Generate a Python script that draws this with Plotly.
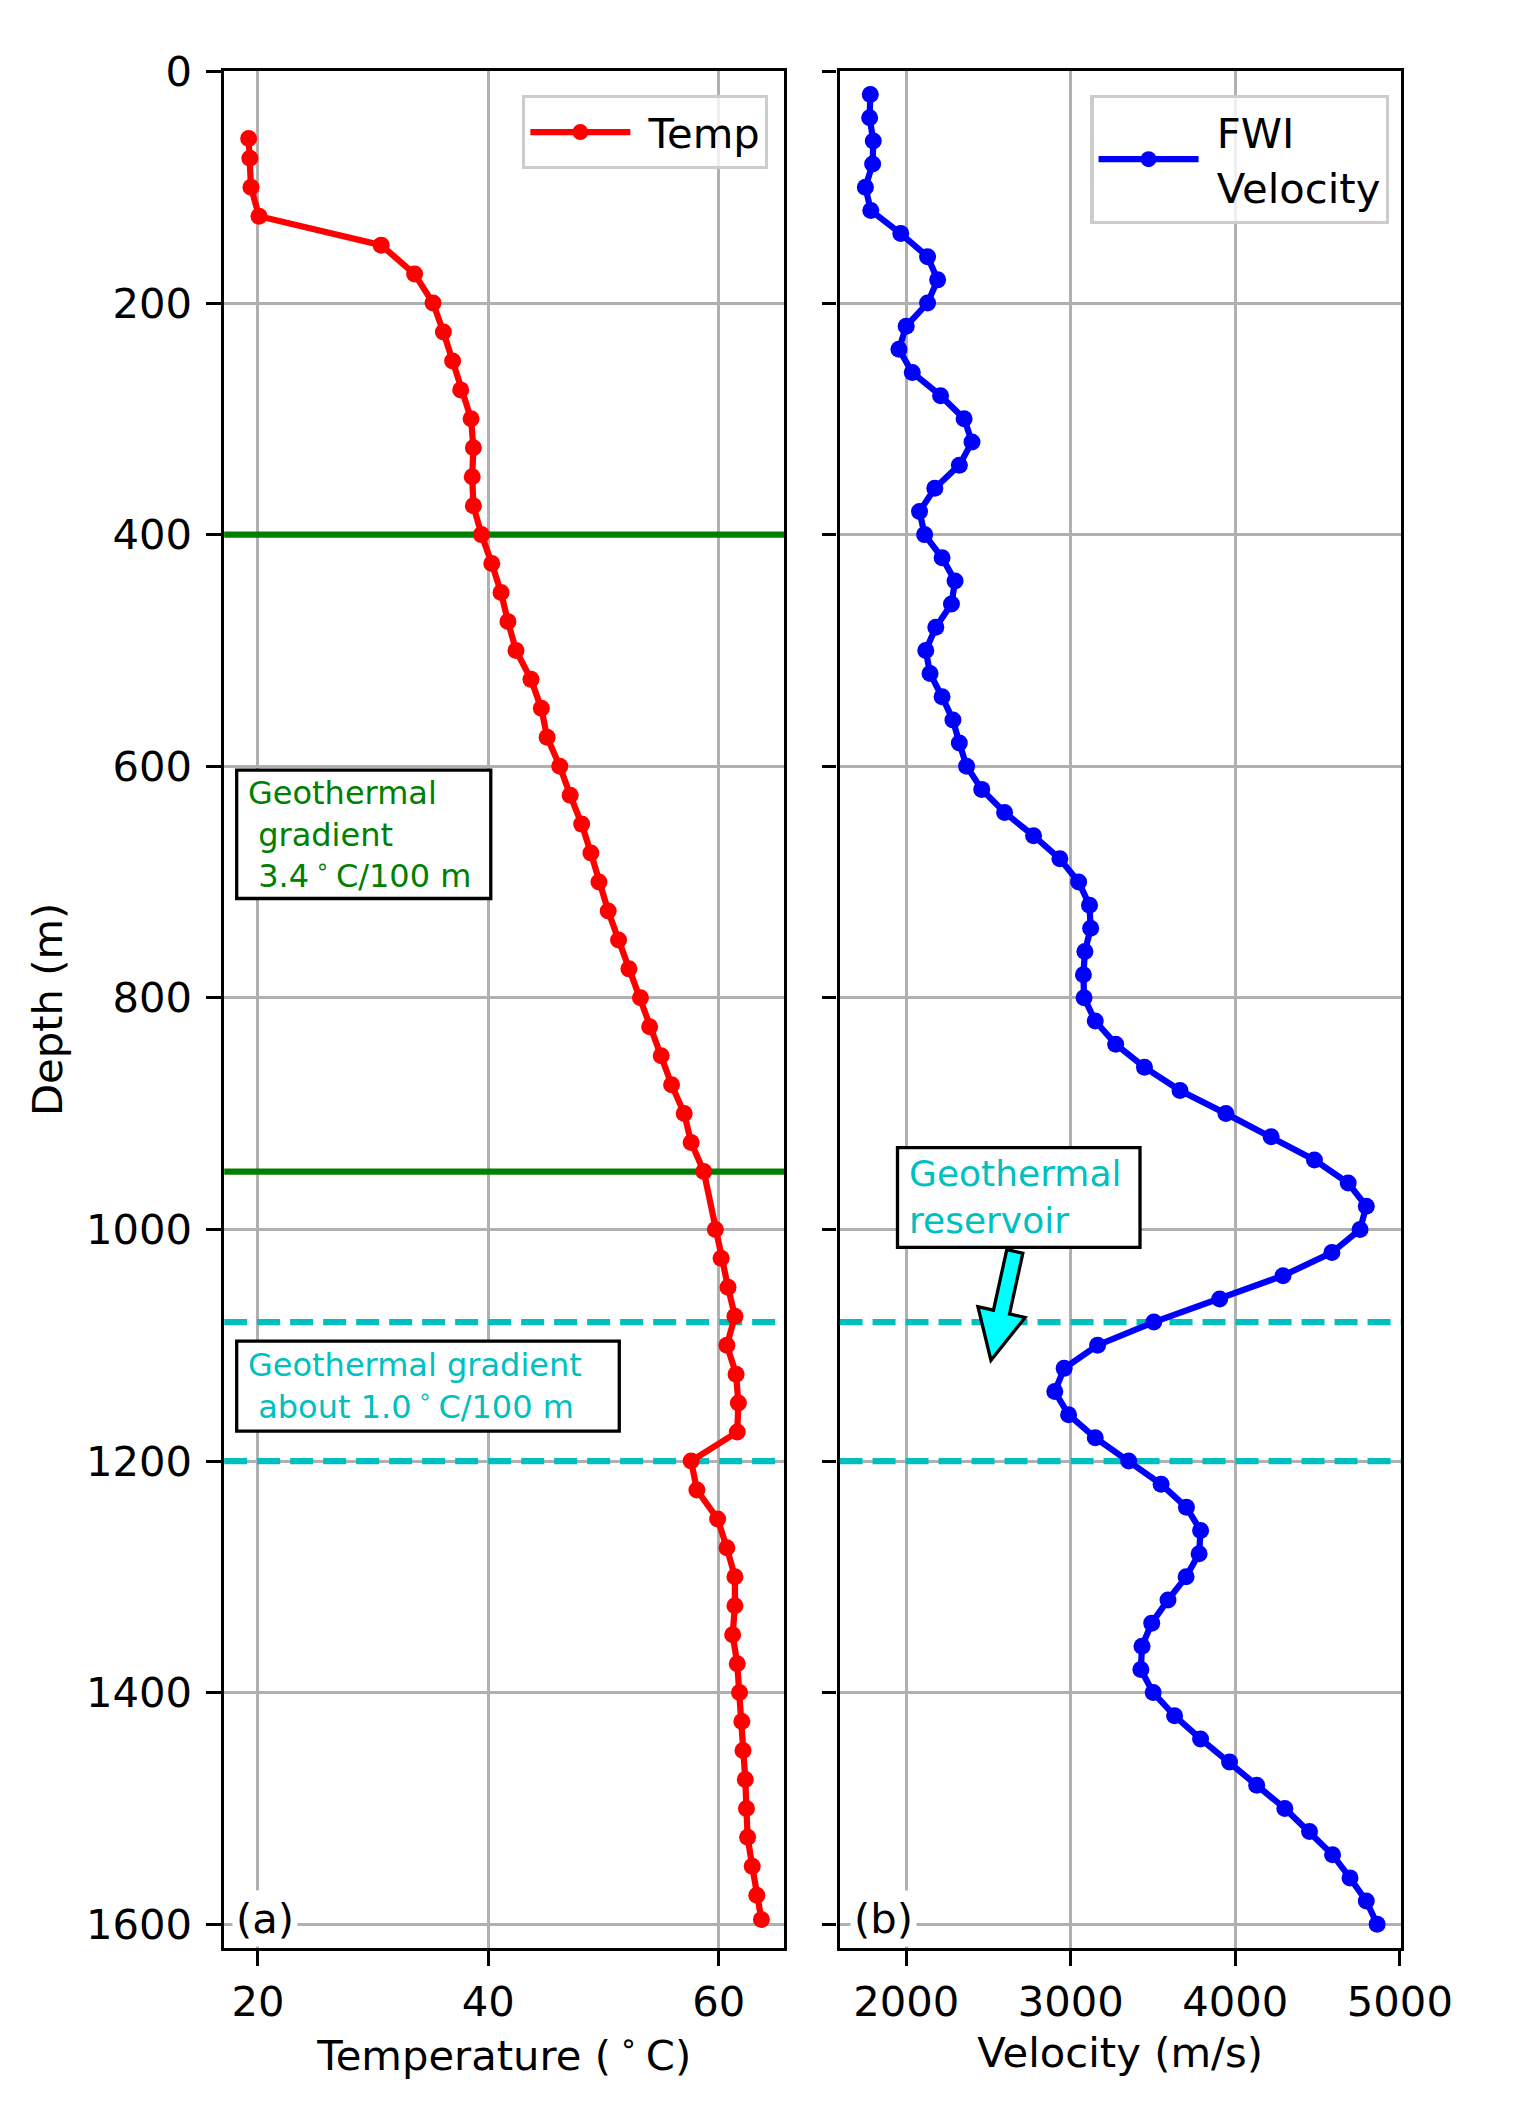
import plotly.graph_objects as go

# (a) temperature log: depth (m) and temperature (deg C)
temp_depth = [58, 75, 100, 125, 150, 175, 200, 225, 250, 275, 300, 325, 350, 375,
              400, 425, 450, 475, 500, 525, 550, 575, 600, 625, 650, 675, 700, 725,
              750, 775, 800, 825, 850, 875, 900, 925, 950, 1000, 1025, 1050, 1075,
              1100, 1125, 1150, 1175, 1200, 1225, 1250, 1275, 1300, 1325, 1350, 1375,
              1400, 1425, 1450, 1475, 1500, 1525, 1550, 1575, 1596]
temp_values = [19.2, 19.3, 19.4, 20.1, 30.7, 33.6, 35.2, 36.1, 36.9, 37.6, 38.5, 38.7,
               38.6, 38.7, 39.4, 40.3, 41.1, 41.7, 42.4, 43.7, 44.6, 45.1, 46.2, 47.1,
               48.1, 48.9, 49.6, 50.4, 51.3, 52.2, 53.2, 54.0, 55.0, 55.9, 57.0, 57.6,
               58.7, 59.7, 60.2, 60.8, 61.4, 60.7, 61.5, 61.7, 61.6, 57.6, 58.1, 59.9,
               60.7, 61.4, 61.4, 61.2, 61.6, 61.8, 62.0, 62.1, 62.3, 62.4, 62.5, 62.9,
               63.3, 63.7]

# (b) FWI velocity: depth (m) and velocity (m/s)
vel_depth = [20, 40, 60, 80, 100, 120, 140, 160, 180, 200, 220, 240, 260, 280, 300,
             320, 340, 360, 380, 400, 420, 440, 460, 480, 500, 520, 540, 560, 580, 600,
             620, 640, 660, 680, 700, 720, 740, 760, 780, 800, 820, 840, 860, 880, 900,
             920, 940, 960, 980, 1000, 1020, 1040, 1060, 1080, 1100, 1120, 1140, 1160,
             1180, 1200, 1220, 1240, 1260, 1280, 1300, 1320, 1340, 1360, 1380, 1400,
             1420, 1440, 1460, 1480, 1500, 1520, 1540, 1560, 1580, 1600]
vel_values = [1782, 1778, 1800, 1796, 1752, 1785, 1967, 2130, 2191, 2130, 2000, 1956,
              2037, 2209, 2352, 2400, 2323, 2174, 2081, 2112, 2218, 2297, 2275, 2180,
              2119, 2145, 2218, 2284, 2323, 2367, 2459, 2598, 2774, 2934, 3048, 3114,
              3121, 3086, 3077, 3081, 3149, 3273, 3448, 3664, 3943, 4218, 4481, 4686,
              4796, 4758, 4587, 4290, 3905, 3505, 3163, 2960, 2903, 2987, 3149, 3352,
              3549, 3703, 3789, 3780, 3701, 3591, 3492, 3433, 3426, 3501, 3631, 3789,
              3965, 4130, 4301, 4451, 4591, 4697, 4796, 4862]

gradient_depths = [400, 950]      # green solid lines, panel (a)
reservoir_depths = [1080, 1200]   # cyan dashed lines, both panels

y_ticks = [0, 200, 400, 600, 800, 1000, 1200, 1400, 1600]
temp_ticks = [20, 40, 60]
vel_ticks = [2000, 3000, 4000, 5000]

W, H = 1534, 2111
AXA = (232, 812)          # pixel left/right of panel (a)
AXB = (869, 1450)         # pixel left/right of panel (b)
TOP, BOT = 48, 1947       # pixel top/bottom of both panels
TEMP_RANGE = [17.07, 65.7]
VEL_RANGE = [1595, 5006]
DEPTH_RANGE = [1620.5, 0]

FS = 41.7                 # 10 pt at 300 dpi
FONT = "DejaVu Sans"
GREEN = "#008000"
CYAN = "#00bfbf"
GRID = "#b0b0b0"


def px(x):
    return x / W


def py(y):
    return 1 - y / H


fig = go.Figure()

# horizontal marker lines, drawn first so the logs sit on top
for d in gradient_depths:
    fig.add_trace(go.Scatter(x=TEMP_RANGE, y=[d, d], mode="lines", showlegend=False,
                             line=dict(color=GREEN, width=6.25), hoverinfo="skip",
                             xaxis="x", yaxis="y"))
for xa, ya, rng in [("x", "y", TEMP_RANGE), ("x2", "y2", VEL_RANGE)]:
    for d in reservoir_depths:
        fig.add_trace(go.Scatter(x=rng, y=[d, d], mode="lines", showlegend=False,
                                 line=dict(color=CYAN, width=6.25, dash="23px,10px"),
                                 hoverinfo="skip", xaxis=xa, yaxis=ya))

fig.add_trace(go.Scatter(x=temp_values, y=temp_depth, mode="lines+markers",
                         name="\u00a0Temp",
                         line=dict(color="#ff0000", width=6.25),
                         marker=dict(color="#ff0000", size=17),
                         xaxis="x", yaxis="y", legend="legend"))
fig.add_trace(go.Scatter(x=vel_values, y=vel_depth, mode="lines+markers",
                         name="\u00a0FWI<br>\u00a0Velocity",
                         line=dict(color="#0000ff", width=6.25),
                         marker=dict(color="#0000ff", size=17),
                         xaxis="x2", yaxis="y2", legend="legend2"))

# fat arrow pointing at the reservoir, built in pixel space then mapped to data
ARROW_TAIL = (2660, 1019)
ARROW_TIP = (2515, 1113)
SHAFT_W, HEAD_W, HEAD_L = 17, 50, 50


def v2px(v):
    return AXB[0] + (v - VEL_RANGE[0]) / (VEL_RANGE[1] - VEL_RANGE[0]) * (AXB[1] - AXB[0])


def d2px(d):
    return TOP + (d - DEPTH_RANGE[1]) / (DEPTH_RANGE[0] - DEPTH_RANGE[1]) * (BOT - TOP)


def px2v(x):
    return VEL_RANGE[0] + (x - AXB[0]) / (AXB[1] - AXB[0]) * (VEL_RANGE[1] - VEL_RANGE[0])


def px2d(y):
    return DEPTH_RANGE[1] + (y - TOP) / (BOT - TOP) * (DEPTH_RANGE[0] - DEPTH_RANGE[1])


tx, ty = v2px(ARROW_TAIL[0]), d2px(ARROW_TAIL[1])
hx, hy = v2px(ARROW_TIP[0]), d2px(ARROW_TIP[1])
L = ((hx - tx) ** 2 + (hy - ty) ** 2) ** 0.5
ux, uy = (hx - tx) / L, (hy - ty) / L
nx, ny = -uy, ux
bx, by = hx - ux * HEAD_L, hy - uy * HEAD_L
poly = [(tx + nx * SHAFT_W / 2, ty + ny * SHAFT_W / 2),
        (bx + nx * SHAFT_W / 2, by + ny * SHAFT_W / 2),
        (bx + nx * HEAD_W / 2, by + ny * HEAD_W / 2),
        (hx, hy),
        (bx - nx * HEAD_W / 2, by - ny * HEAD_W / 2),
        (bx - nx * SHAFT_W / 2, by - ny * SHAFT_W / 2),
        (tx - nx * SHAFT_W / 2, ty - ny * SHAFT_W / 2)]
path = "M " + " L ".join(f"{px2v(x):.2f},{px2d(y):.2f}" for x, y in poly) + " Z"

shapes = [dict(type="path", xref="x2", yref="y2", path=path, fillcolor="#00ffff",
               line=dict(color="black", width=3.3), layer="above")]

# text boxes: (left, top, right, bottom) in pixels, text, colour, size, text left
deg = "\u2009<sup>\u2218</sup>\u2009"
boxes = [
    ((245, 755, 508, 885), "Geothermal<br>\u00a0gradient<br>\u00a03.4" + deg + "C/100 m",
     GREEN, 32, 256),
    ((245, 1333, 641, 1424), "Geothermal gradient<br>\u00a0about 1.0" + deg + "C/100 m",
     CYAN, 32, 256),
    ((929, 1137, 1180, 1238), "Geothermal<br>reservoir", CYAN, 36, 940),
]
annotations = []
for (l, t, r, b), text, col, size, tl in boxes:
    shapes.append(dict(type="rect", xref="paper", yref="paper", x0=px(l), x1=px(r),
                       y0=py(b), y1=py(t), fillcolor="white",
                       line=dict(color="black", width=3.3), layer="above"))
    annotations.append(dict(text=text, x=px(tl), y=py((t + b) / 2), xref="paper",
                            yref="paper", xanchor="left", yanchor="middle",
                            showarrow=False, align="left", borderpad=0,
                            font=dict(size=size, color=col)))

for label, left in [("(a)", 240), ("(b)", 880)]:
    annotations.append(dict(text=label, x=px(left), y=py(1917), xref="paper", yref="paper",
                            xanchor="left", yanchor="middle", showarrow=False,
                            bgcolor="white", borderpad=3, font=dict(size=FS, color="black")))
annotations.append(dict(text="Depth (m)", x=px(49), y=py((TOP + BOT) / 2), xref="paper",
                        yref="paper", xanchor="center", yanchor="middle", textangle=-90,
                        showarrow=False, font=dict(size=FS, color="black")))

axis_style = dict(showline=True, linecolor="black", linewidth=3.3, mirror=True,
                  ticks="outside", ticklen=14.6, tickwidth=3.3, tickcolor="black",
                  showgrid=True, gridcolor=GRID, gridwidth=3.3, zeroline=False,
                  tickfont=dict(size=FS, color="black"))

legend_style = dict(y=py(72), xanchor="right", yanchor="top",
                    bgcolor="rgba(255,255,255,0.8)", bordercolor="#cccccc",
                    borderwidth=3.3, font=dict(size=FS, color="black"), itemwidth=100)

fig.update_layout(
    width=W, height=H, margin=dict(l=0, r=0, t=0, b=0),
    paper_bgcolor="white", plot_bgcolor="white",
    font=dict(family=FONT, color="black"),
    xaxis=dict(domain=[px(AXA[0]), px(AXA[1])], range=TEMP_RANGE, anchor="y",
               tickvals=temp_ticks,
               title=dict(text="Temperature (" + deg + "C)", font=dict(size=FS), standoff=14),
               **axis_style),
    xaxis2=dict(domain=[px(AXB[0]), px(AXB[1])], range=VEL_RANGE, anchor="y2",
                tickvals=vel_ticks,
                title=dict(text="Velocity (m/s)", font=dict(size=FS), standoff=14),
                **axis_style),
    yaxis=dict(domain=[py(BOT), py(TOP)], range=DEPTH_RANGE, anchor="x",
               tickvals=y_ticks, ticklabelstandoff=6, **axis_style),
    yaxis2=dict(domain=[py(BOT), py(TOP)], range=DEPTH_RANGE, anchor="x2",
                tickvals=y_ticks, showticklabels=False, **axis_style),
    legend=dict(x=px(795), **legend_style),
    legend2=dict(x=px(1438), **legend_style),
    shapes=shapes,
    annotations=annotations,
)

fig.write_html("out.html", config={"displayModeBar": False},
               post_script="document.body.style.margin='0';")
